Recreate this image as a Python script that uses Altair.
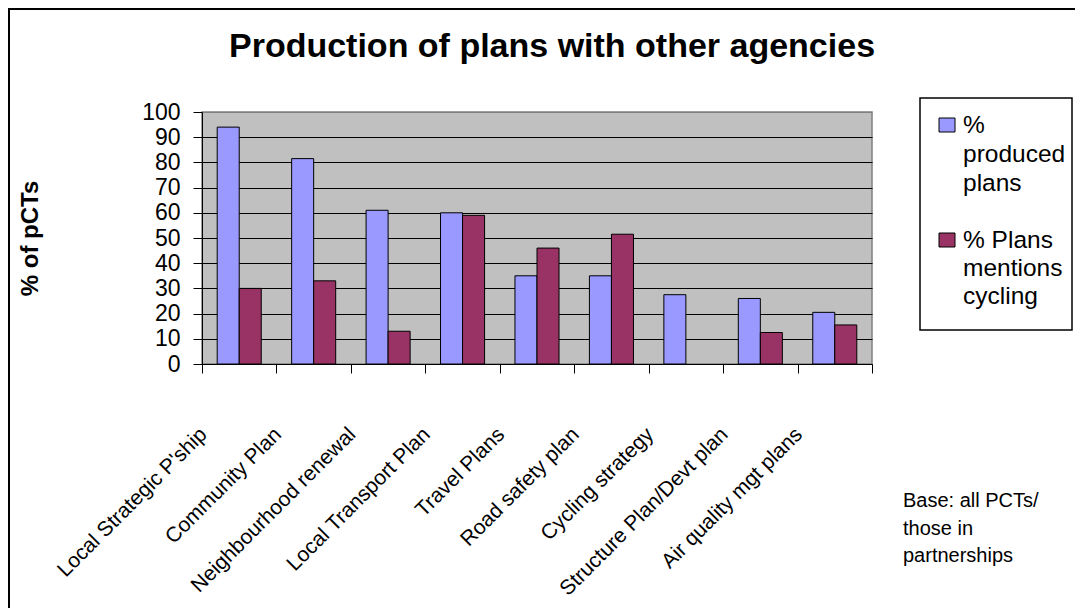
import altair as alt
import pandas as pd

FONT = "Liberation Sans"

categories = [
    "Local Strategic P'ship",
    "Community Plan",
    "Neighbourhood renewal",
    "Local Transport Plan",
    "Travel Plans",
    "Road safety plan",
    "Cycling strategy",
    "Structure Plan/Devt plan",
    "Air quality mgt plans",
]
series = ["% produced plans", "% Plans mentions cycling"]
produced = [94, 81.5, 61, 60, 35, 35, 27.5, 26, 20.5]
mentions = [30, 33, 13, 59, 46, 51.5, None, 12.5, 15.5]
colors = ["#9999FF", "#993366"]
y_ticks = list(range(0, 101, 10))
title_text = "Production of plans with other agencies"
y_title = "% of pCTs"
base_note = ["Base: all PCTs/", "those in", "partnerships"]
legend_lines = [["%", "produced", "plans"], ["% Plans", "mentions", "cycling"]]

rows = []
for s, vals in zip(series, [produced, mentions]):
    for c, v in zip(categories, vals):
        if v is not None:
            rows.append({"category": c, "series": s, "value": v})
df = pd.DataFrame(rows)
one = pd.DataFrame({"k": [0]})

color_scale = alt.Scale(domain=series, range=colors)

bars = alt.Chart(df).mark_bar(stroke="black", strokeWidth=1).encode(
    x=alt.X(
        "category:N",
        sort=categories,
        scale=alt.Scale(paddingInner=0, paddingOuter=0),
        axis=alt.Axis(
            title=None,
            labelAngle=-45,
            labelAlign="right",
            labelBaseline="middle",
            labelFont=FONT,
            labelFontSize=21,
            labelColor="black",
            labelOffset=-36,
            labelPadding=58,
            labelLimit=500,
            labelOverlap=False,
            labelBound=False,
            labelFlush=False,
            tickBand="extent",
            tickSize=9,
            tickColor="black",
            tickWidth=1,
            domainColor="black",
            domainWidth=1,
            grid=False,
        ),
    ),
    xOffset=alt.XOffset(
        "series:N", sort=series, scale=alt.Scale(paddingInner=0, paddingOuter=0.69)
    ),
    y=alt.Y(
        "value:Q",
        scale=alt.Scale(domain=[0, 100], nice=False),
        axis=alt.Axis(
            values=y_ticks,
            title=y_title,
            titleFont=FONT,
            titleFontSize=24,
            titleFontWeight="bold",
            titleColor="black",
            titleAngle=270,
            titleX=-165,
            titleY=126,
            titleAlign="center",
            titleBaseline="alphabetic",
            labelFont=FONT,
            labelFontSize=23,
            labelColor="black",
            labelPadding=13,
            tickSize=9,
            tickColor="black",
            tickWidth=1,
            domainColor="black",
            domainWidth=1,
            grid=True,
            gridColor={
                "condition": {"test": "datum.value === 100", "value": "#808080"},
                "value": "black",
            },
            gridWidth=1.2,
        ),
    ),
    color=alt.Color("series:N", scale=color_scale, legend=None),
)

frame = alt.Chart(one).mark_rect(fillOpacity=0, stroke="black", strokeWidth=2).encode(
    x=alt.value(-193), x2=alt.value(1200), y=alt.value(-103), y2=alt.value(900)
)

legend_box = alt.Chart(one).mark_rect(fill="white", stroke="black", strokeWidth=1.5).encode(
    x=alt.value(718), x2=alt.value(870), y=alt.value(-14), y2=alt.value(218)
)

sym1 = alt.Chart(pd.DataFrame({"series": [series[0]]})).mark_rect(
    stroke="black", strokeWidth=1
).encode(
    x=alt.value(737), x2=alt.value(753), y=alt.value(6), y2=alt.value(20),
    color=alt.Color("series:N", scale=color_scale, legend=None),
)
sym2 = alt.Chart(pd.DataFrame({"series": [series[1]]})).mark_rect(
    stroke="black", strokeWidth=1
).encode(
    x=alt.value(737), x2=alt.value(753), y=alt.value(121), y2=alt.value(135),
    color=alt.Color("series:N", scale=color_scale, legend=None),
)

txt1 = alt.Chart(one).mark_text(
    align="left", baseline="alphabetic", font=FONT, fontSize=24.5, lineHeight=29, color="black"
).encode(x=alt.value(761), y=alt.value(21), text=alt.value(legend_lines[0]))
txt2 = alt.Chart(one).mark_text(
    align="left", baseline="alphabetic", font=FONT, fontSize=24.5, lineHeight=28, color="black"
).encode(x=alt.value(761), y=alt.value(136), text=alt.value(legend_lines[1]))

base = alt.Chart(one).mark_text(
    align="left", baseline="alphabetic", font=FONT, fontSize=20, lineHeight=27.5, color="black"
).encode(x=alt.value(701), y=alt.value(395), text=alt.value(base_note))

title = alt.Chart(one).mark_text(
    align="center", baseline="alphabetic", font=FONT, fontSize=34, fontWeight="bold", color="black"
).encode(x=alt.value(350), y=alt.value(-55), text=alt.value(title_text))

chart = (
    alt.layer(frame, bars, legend_box, sym1, sym2, txt1, txt2, base, title)
    .properties(
        width=670,
        height=252,
        padding={"left": 194, "top": 104, "right": 203, "bottom": 244},
        autosize=alt.AutoSizeParams(type="none"),
        background="white",
    )
    .configure_view(fill="#C0C0C0", stroke="#808080", strokeWidth=1.5)
)

chart.save("out.html", embed_options={"renderer": "svg", "actions": False})
